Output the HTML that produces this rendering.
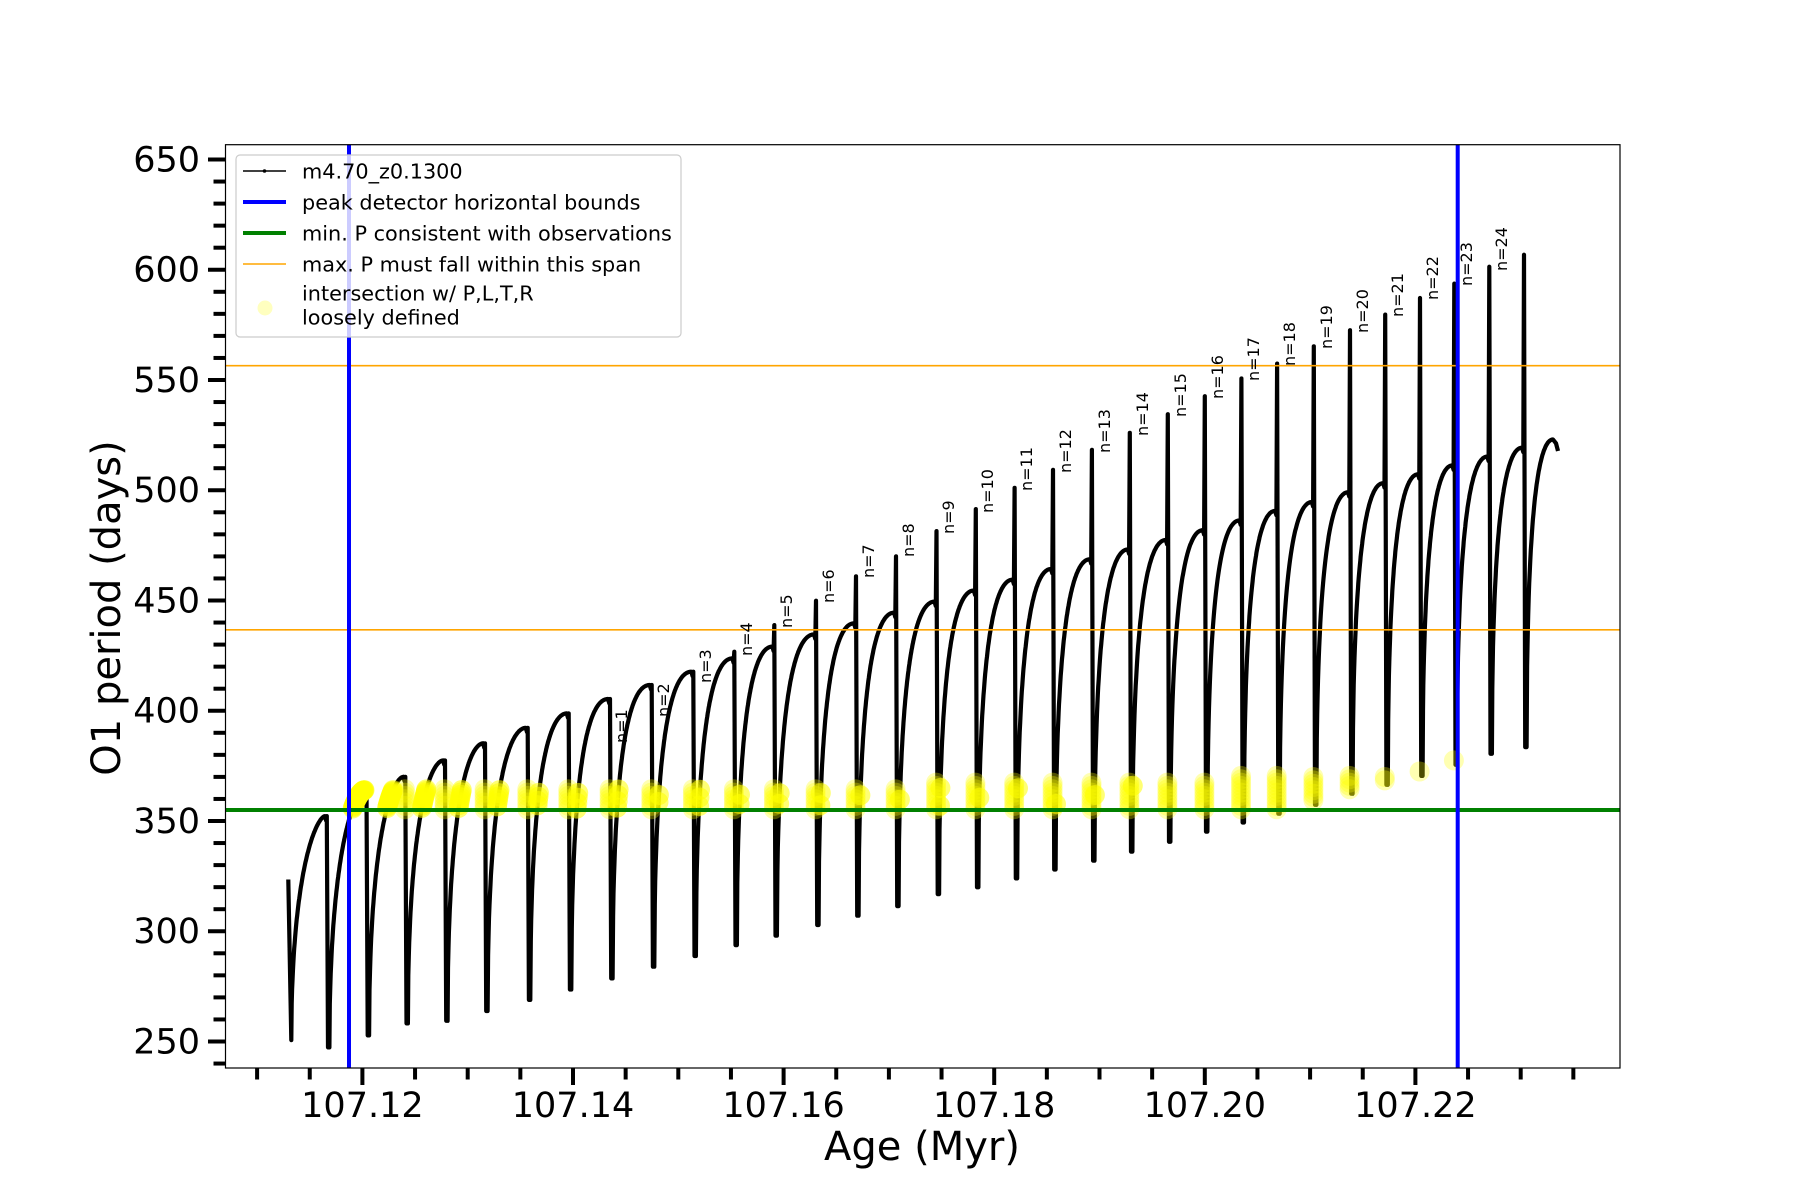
<!DOCTYPE html>
<html><head><meta charset="utf-8"><style>
html,body{margin:0;padding:0;background:#fff;}
svg{display:block;}
text{font-family:"DejaVu Sans","Liberation Sans",sans-serif;}
</style></head><body>
<svg id="s" xmlns="http://www.w3.org/2000/svg" width="1800" height="1200" viewBox="0 0 1800 1200">
<rect width="1800" height="1200" fill="#fff"/>
<path id="curve" fill="none" stroke="#000" stroke-width="4.2" stroke-linejoin="round"/>
<g id="yel2"></g>
<line x1="225" y1="810" x2="1620" y2="810" stroke="#008000" stroke-width="4"/>
<line x1="225" y1="365.7" x2="1620" y2="365.7" stroke="#ffa500" stroke-width="1.6"/>
<line x1="225" y1="629.8" x2="1620" y2="629.8" stroke="#ffa500" stroke-width="1.6"/>
<line x1="349" y1="144.7" x2="349" y2="1068" stroke="#0000ff" stroke-width="4"/>
<line x1="1457.7" y1="144.7" x2="1457.7" y2="1068" stroke="#0000ff" stroke-width="4"/>
<g font-size="16" fill="#000" id="labels">
<text transform="translate(627,743) rotate(-90)">n=1</text>
<text transform="translate(669,717) rotate(-90)">n=2</text>
<text transform="translate(711,683) rotate(-90)">n=3</text>
<text transform="translate(752,656) rotate(-90)">n=4</text>
<text transform="translate(792,628) rotate(-90)">n=5</text>
<text transform="translate(834,603) rotate(-90)">n=6</text>
<text transform="translate(874,578) rotate(-90)">n=7</text>
<text transform="translate(914,557) rotate(-90)">n=8</text>
<text transform="translate(954,534) rotate(-90)">n=9</text>
<text transform="translate(993,513) rotate(-90)">n=10</text>
<text transform="translate(1032,491) rotate(-90)">n=11</text>
<text transform="translate(1071,473) rotate(-90)">n=12</text>
<text transform="translate(1110,453) rotate(-90)">n=13</text>
<text transform="translate(1148,436) rotate(-90)">n=14</text>
<text transform="translate(1186,417) rotate(-90)">n=15</text>
<text transform="translate(1223,399) rotate(-90)">n=16</text>
<text transform="translate(1259,381) rotate(-90)">n=17</text>
<text transform="translate(1295,366) rotate(-90)">n=18</text>
<text transform="translate(1332,349) rotate(-90)">n=19</text>
<text transform="translate(1368,333) rotate(-90)">n=20</text>
<text transform="translate(1403,317) rotate(-90)">n=21</text>
<text transform="translate(1438,300) rotate(-90)">n=22</text>
<text transform="translate(1472,286) rotate(-90)">n=23</text>
<text transform="translate(1507,271) rotate(-90)">n=24</text>
</g>
<rect x="225.5" y="144.7" width="1394.5" height="923.3" fill="none" stroke="#000" stroke-width="1.2"/>
<g id="ticks" stroke="#000" stroke-width="4"></g>
<g font-size="35" fill="#000" text-anchor="end">
<text x="200" y="171.5">650</text>
<text x="200" y="281.7">600</text>
<text x="200" y="392">550</text>
<text x="200" y="502.2">500</text>
<text x="200" y="612.5">450</text>
<text x="200" y="722.7">400</text>
<text x="200" y="833">350</text>
<text x="200" y="943.2">300</text>
<text x="200" y="1053.5">250</text>
</g>
<g font-size="35" fill="#000" text-anchor="middle">
<text x="362.4" y="1117">107.12</text>
<text x="573" y="1117">107.14</text>
<text x="783.6" y="1117">107.16</text>
<text x="994.2" y="1117">107.18</text>
<text x="1204.8" y="1117">107.20</text>
<text x="1415.4" y="1117">107.22</text>
</g>
<text x="922" y="1160" font-size="40" text-anchor="middle">Age (Myr)</text>
<text transform="translate(120,608) rotate(-90)" font-size="40" text-anchor="middle">O1 period (days)</text>
<rect x="236" y="155" width="445" height="182" rx="4" fill="#fff" fill-opacity="0.8" stroke="#cccccc" stroke-width="1.2"/>
<g font-size="20.8" fill="#000">
<line x1="243" y1="171" x2="286" y2="171" stroke="#000" stroke-width="1.5"/><circle cx="264.5" cy="171" r="1.8"/>
<text x="302" y="178.5">m4.70_z0.1300</text>
<line x1="243" y1="202" x2="286" y2="202" stroke="#0000ff" stroke-width="4"/>
<text x="302" y="209.5">peak detector horizontal bounds</text>
<line x1="243" y1="233" x2="286" y2="233" stroke="#008000" stroke-width="4"/>
<text x="302" y="240.5">min. P consistent with observations</text>
<line x1="243" y1="264" x2="286" y2="264" stroke="#ffa500" stroke-width="1.6"/>
<text x="302" y="271.5">max. P must fall within this span</text>
<circle cx="265" cy="308" r="7.5" fill="#ffff00" fill-opacity="0.25"/>
<text x="302" y="300.5">intersection w/ P,L,T,R</text>
<text x="302" y="324.5">loosely defined</text>
</g>
</svg>
<script>
(function(){
var NS="http://www.w3.org/2000/svg";
function yc(v){return 161.6+(650-v)*2.2178;}
var D=[[326.8,354.9,354.9,250.6],[366.5,366.6,366.6,256],[405.3,372.6,372.6,261.4],[445,380,380,262.6],[485,387.7,387.7,267],[527.7,394.7,394.7,272],[568.7,401.2,401.2,276.7],[610,407.7,407.7,281.7],[651.7,414,414,287],[693.3,420,420,291.8],[734.3,426,429,296.7],[774.3,431.3,441,301],[816,436.8,452,305.8],[856,441.8,463,310],[896,446.6,472,314.3],[936.5,451.6,483.4,319.7],[975.8,456.6,493.3,322.8],[1014.6,461.5,502.9,326.8],[1053,466.3,511,330.8],[1091.9,470.7,520,334.8],[1129.8,475.1,527.7,338.9],[1167.8,479.4,536.1,343.3],[1204.8,483.8,544.2,347.9],[1241.4,488.2,552.2,352],[1277.1,492.5,558.9,356],[1313.8,496.5,566.7,360],[1350,500.9,574,365],[1385.2,505,581,369],[1420,509,588.5,373],[1454.3,513,595,378],[1489.3,517,602.6,383],[1524,521,608,386]];
function F(t,k){return 1-Math.pow(1-Math.sqrt(t),k);}
var pts=[[288.3,326.3],[291.3,253.9]];
var rises=[];
var px=291.3,pm=253.9;
for(var i=0;i<D.length;i++){
 var d=D[i],a=px,b=d[0]-2,M=d[1],m=pm;
 var k=Math.min(2.0,1.5+i*0.07);
 var rs=[];
 for(var j=0;j<=80;j++){var t=j/80;var x=a+t*(b-a),v=m+(M-m)*F(t,k);pts.push([x,v]);rs.push([x,v]);}
 rises.push({pts:rs});
 pts.push([d[0]-0.7,M-2]);pts.push([d[0],d[2]]);pts.push([d[0]+1.2,d[3]]);
 px=d[0]+2.6;pm=d[3];
}
var a=px,b=1553,M=524.7,m=pm;
for(var j=0;j<=50;j++){var t=j/50;pts.push([a+t*(b-a),m+(M-m)*F(t,2)]);}
pts.push([1556,523]);pts.push([1558,519.5]);
var s="M"+pts.map(function(p){return p[0].toFixed(1)+","+yc(p[1]).toFixed(1);}).join("L");
document.getElementById("curve").setAttribute("d",s);
var g=document.getElementById("yel2");
function circ(x,y,op){var c=document.createElementNS(NS,"circle");c.setAttribute("cx",x.toFixed(1));c.setAttribute("cy",y.toFixed(1));c.setAttribute("r","10");c.setAttribute("fill","#ffff00");c.setAttribute("fill-opacity",op);g.appendChild(c);}
for(var i=0;i<rises.length;i++){
 var r=rises[i];
 var mm=r.pts[0][1];
 var lo=Math.max(358,mm+2);
 var xs=r.pts[0][0];
 var hi=xs<900?367:(xs<1240?370:373);
 if(hi<lo)hi=lo;
 for(var j=0;j<r.pts.length;j++){var p=r.pts[j];if(p[1]>=lo&&p[1]<=hi&&p[0]>=343&&p[0]<=1460)circ(p[0],yc(p[1]),0.55);}
 if(i>0&&xs<1460&&xs>400){for(var v=lo;v<=hi;v+=1.5)circ(xs-3,yc(v),0.3);}
}
var tg=document.getElementById("ticks");
function ln(x1,y1,x2,y2){var l=document.createElementNS(NS,"line");l.setAttribute("x1",x1);l.setAttribute("y1",y1);l.setAttribute("x2",x2);l.setAttribute("y2",y2);tg.appendChild(l);}
for(var v=240;v<=650;v+=10){var y=159.5+(650-v)*2.205;var maj=(v%50==0);ln(maj?208:213.5,y,225.5,y);}
for(var k=-2;k<=23;k++){var x=362.4+k*52.65;if(x<230||x>1615)continue;var maj=(k%4==0);ln(x,1068,x,maj?1085:1079.5);}
})();
</script>
</body></html>
